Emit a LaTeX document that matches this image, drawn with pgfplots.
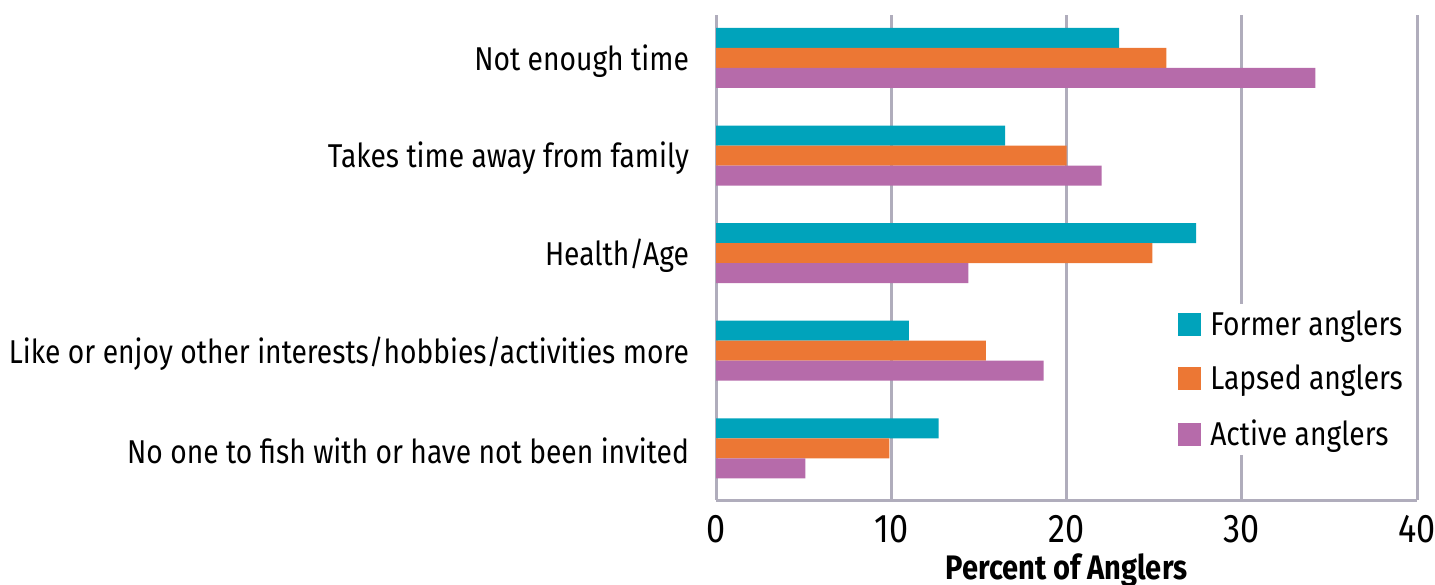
\documentclass[border=0pt]{standalone}
\usepackage{fontspec}
\setmainfont{Fira Sans}[FakeStretch=0.855]
\usepackage{pgfplots}
\pgfplotsset{compat=1.18}
\usetikzlibrary{calc}
\definecolor{cFormer}{RGB}{0,163,187}
\definecolor{cLapsed}{RGB}{236,119,52}
\definecolor{cActive}{RGB}{182,107,170}
\definecolor{gridgray}{RGB}{176,173,188}
\begin{document}
\begin{tikzpicture}
\begin{axis}[
  name=ax,
  scale only axis,
  width=350.5pt, height=242.5pt,
  xbar,
  y dir=reverse,
  xmin=0, xmax=40,
  ymin=-0.44, ymax=4.53,
  xtick={0,10,20,30,40},
  ytick={0,1,2,3,4},
  yticklabels={Not enough time,Takes time away from family,Health/Age,Like or enjoy other interests/hobbies/activities more,No one to fish with or have not been invited},
  major tick length=0pt,
  axis x line*=bottom,
  axis y line*=left,
  axis line style={gridgray, line width=1.5pt, -},
  xmajorgrids,
  grid style={gridgray, line width=1.5pt},
  /pgf/number format/assume math mode=true,
  xticklabel style={font=\fontsize{20}{24}\selectfont, yshift=-4pt},
  yticklabel style={font=\fontsize{16.5}{19}\selectfont, xshift=-10pt, yshift=-1.5pt},
  xlabel={\textbf{Percent of Anglers}},
  xlabel style={font=\fontsize{17}{20}\selectfont, yshift=1.5pt},
  bar width=0.205,
  legend style={at={(0.996,0.093)}, anchor=south east, draw=none, fill=white,
    font=\fontsize{16.5}{19}\selectfont, row sep=9.5pt, inner sep=1pt,
    legend cell align=left,
    nodes={inner xsep=4.5pt}},
  legend image code/.code={\fill[#1] (0pt,-5.75pt) rectangle (11.5pt,5.75pt);},
]
\addplot[fill=cFormer, draw=none, bar shift=-0.205] coordinates {(23.0,0) (16.5,1) (27.4,2) (11.0,3) (12.7,4)};
\addplot[fill=cLapsed, draw=none, bar shift=0] coordinates {(25.7,0) (20.0,1) (24.9,2) (15.4,3) (9.9,4)};
\addplot[fill=cActive, draw=none, bar shift=0.205] coordinates {(34.2,0) (22.0,1) (14.4,2) (18.7,3) (5.1,4)};
\legend{Former anglers,Lapsed anglers,Active anglers}
\end{axis}
\pgfresetboundingbox
\path ($(ax.south west)+(-358pt,-42pt)$) rectangle ($(ax.north east)+(9pt,7.5pt)$);
\end{tikzpicture}
\end{document}
